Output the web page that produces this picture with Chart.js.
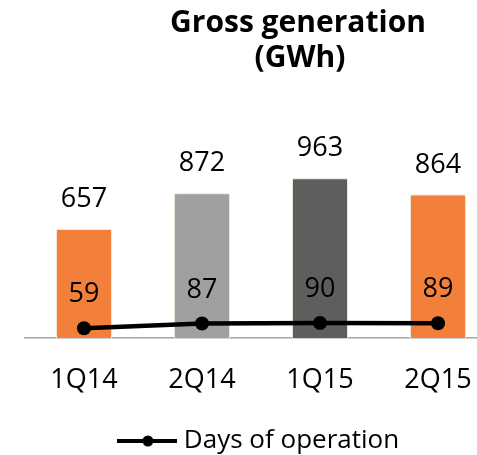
<!DOCTYPE html>
<html>
<head>
<meta charset="utf-8">
<script src="https://cdn.jsdelivr.net/npm/chart.js@4.4.1/dist/chart.umd.min.js"></script>
<style>
  html, body { margin: 0; padding: 0; background: #ffffff; overflow: hidden; width: 477px; height: 455px; }
  canvas { display: block; }
</style>
</head>
<body>
<canvas id="c" width="504" height="455"></canvas>
<script>
const categories = ["1Q14", "2Q14", "1Q15", "2Q15"];
const grossGeneration = [657, 872, 963, 864];
const daysOfOperation = [59, 87, 90, 89];
const barColors = ["#F3803A", "#A0A0A0", "#5E5E5E", "#F3803A"];
const titleLines = ["Gross generation", "(GWh)"];
const legendLabel = "Days of operation";

const FONT = "'Open Sans', 'DejaVu Sans', sans-serif";

// legend symbol: line with dot in the middle
const sym = document.createElement('canvas');
sym.width = 60; sym.height = 14;
(function () {
  const g = sym.getContext('2d');
  g.strokeStyle = '#000'; g.lineWidth = 4;
  g.beginPath(); g.moveTo(0, 7); g.lineTo(60, 7); g.stroke();
  g.fillStyle = '#000';
  g.beginPath(); g.arc(31, 7, 5.5, 0, Math.PI * 2); g.fill();
})();

const titlePlugin = {
  id: 'titleText',
  afterDraw(chart) {
    const ctx = chart.ctx;
    ctx.save();
    ctx.fillStyle = '#000';
    ctx.font = "bold 30px " + FONT;
    ctx.textAlign = 'center';
    ctx.textBaseline = 'alphabetic';
    ctx.fillText(titleLines[0], 298, 32);
    ctx.fillText(titleLines[1], 300, 67);
    ctx.restore();
  }
};

const labelPlugin = {
  id: 'valueLabels',
  afterDatasetsDraw(chart) {
    const ctx = chart.ctx;
    ctx.save();
    ctx.fillStyle = '#000';
    ctx.font = "27px " + FONT;
    ctx.textAlign = 'center';
    ctx.textBaseline = 'alphabetic';
    const barMeta = chart.getDatasetMeta(0);
    barMeta.data.forEach((el, i) => {
      ctx.fillText(String(chart.data.datasets[0].data[i]), el.x, el.y - 22);
    });
    const lineMeta = chart.getDatasetMeta(1);
    lineMeta.data.forEach((el, i) => {
      ctx.fillText(String(chart.data.datasets[1].data[i]), el.x, el.y - 26);
    });
    ctx.restore();
  }
};

const shadowPlugin = {
  id: 'barShadow',
  beforeDatasetDraw(chart, args) {
    if (args.index === 0) {
      const ctx = chart.ctx;
      ctx.save();
      ctx.shadowColor = 'rgba(150,120,90,0.35)';
      ctx.shadowBlur = 5;
    }
  },
  afterDatasetDraw(chart, args) {
    if (args.index === 0) chart.ctx.restore();
  }
};

new Chart(document.getElementById('c'), {
  data: {
    labels: categories,
    datasets: [
      {
        type: 'bar',
        label: 'Gross generation',
        data: grossGeneration,
        backgroundColor: barColors,
        borderColor: 'rgba(253,246,236,1)',
        borderWidth: 1,
        barPercentage: 0.475,
        categoryPercentage: 1,
        order: 2
      },
      {
        type: 'line',
        label: legendLabel,
        data: daysOfOperation,
        borderColor: '#000',
        backgroundColor: '#000',
        borderWidth: 4.5,
        pointRadius: 7,
        pointHoverRadius: 7,
        pointBackgroundColor: '#000',
        pointBorderWidth: 0,
        tension: 0,
        order: 1
      }
    ]
  },
  options: {
    responsive: false,
    animation: false,
    devicePixelRatio: 1,
    layout: { padding: { left: 25, right: 0, top: 172, bottom: -9 } },
    scales: {
      x: {
        grid: { display: false, drawTicks: false },
        border: { display: true, color: '#A6A6A6', width: 1.5 },
        ticks: { color: '#000', font: { family: FONT, size: 27 }, padding: 26 },
        afterFit: (scale) => { scale.height = 88; }
      },
      y: {
        display: false,
        min: 0,
        max: 1000
      }
    },
    plugins: {
      title: { display: false },
      tooltip: { enabled: false },
      legend: {
        display: true,
        position: 'bottom',
        fullSize: false,
        labels: {
          usePointStyle: true,
          pointStyle: sym,
          pointStyleWidth: 48,
          boxHeight: 14,
          color: '#000',
          font: { family: FONT, size: 26 },
          padding: 2,
          generateLabels: (chart) => [{
            text: legendLabel,
            pointStyle: sym,
            datasetIndex: 1,
            fillStyle: '#000',
            strokeStyle: '#000',
            lineWidth: 0,
            hidden: false
          }]
        }
      }
    }
  },
  plugins: [shadowPlugin, labelPlugin, titlePlugin]
});
</script>
</body>
</html>
